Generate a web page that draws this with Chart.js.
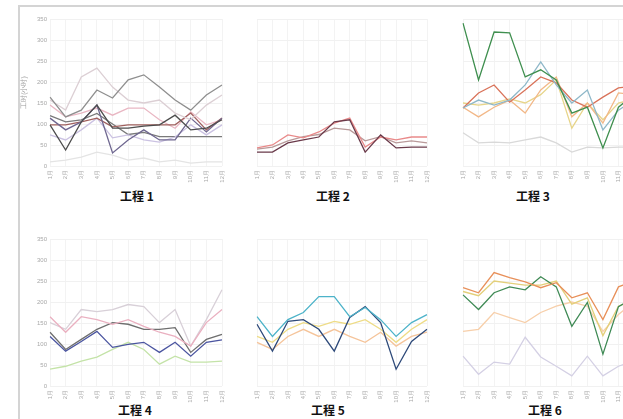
<!DOCTYPE html>
<html>
<head>
<meta charset="utf-8">
<script src="https://cdn.jsdelivr.net/npm/chart.js@4"></script>
<style>
  html, body { margin: 0; padding: 0; width: 623px; height: 419px; overflow: hidden; background: #fff; }
  .frame { position: absolute; left: 18px; top: 5px; width: 700px; height: 500px; border: 2px solid #d4d4d4; box-sizing: border-box; }
  .panel { position: absolute; }
  .titulo { position: absolute; font-family: "Noto Sans CJK SC", "Noto Sans", sans-serif; font-weight: bold; font-size: 12px; color: #111; background: #fff; padding: 0 3px; transform: translate(-50%, -50%); white-space: nowrap; }
</style>
</head>
<body>
<div class="frame"></div>

<canvas id="c1" class="panel"></canvas>
<canvas id="c2" class="panel"></canvas>
<canvas id="c3" class="panel"></canvas>
<canvas id="c4" class="panel"></canvas>
<canvas id="c5" class="panel"></canvas>
<canvas id="c6" class="panel"></canvas>

<div class="titulo" style="left:137px; top:195px;">工程 1</div>
<div class="titulo" style="left:333px; top:195px;">工程 2</div>
<div class="titulo" style="left:533px; top:195px;">工程 3</div>
<div class="titulo" style="left:135px; top:409px;">工程 4</div>
<div class="titulo" style="left:328px; top:409px;">工程 5</div>
<div class="titulo" style="left:545px; top:409px;">工程 6</div>

<script>
// DADOS
const meses = ["1月", "2月", "3月", "4月", "5月", "6月", "7月", "8月", "9月", "10月", "11月", "12月"];
const yTicks = [0, 50, 100, 150, 200, 250, 300, 350];
const yTitulo = "工时(小时)";

const proc1 = [
  [164, 117, 133, 181, 162, 205, 217, 188, 157, 133, 169, 193],
  [157, 133, 212, 233, 188, 157, 150, 157, 126, 110, 145, 169],
  [98, 38, 105, 145, 90, 90, 95, 98, 121, 86, 90, 110],
  [114, 86, 105, 145, 31, 62, 86, 62, 62, 114, 81, 114],
  [98, 98, 105, 114, 93, 98, 98, 98, 98, 126, 86, 114],
  [145, 117, 126, 138, 121, 138, 138, 110, 90, 129, 98, 110],
  [74, 62, 86, 114, 67, 74, 62, 57, 69, 98, 74, 98],
  [10, 14, 21, 33, 26, 14, 19, 10, 14, 7, 10, 10],
  [120, 105, 110, 125, 100, 75, 80, 70, 70, 70, 70, 70]
];
const proc2 = [
  [33, 33, 55, 62, 69, 105, 110, 33, 74, 43, 45, 45],
  [43, 50, 74, 67, 81, 102, 114, 45, 69, 62, 69, 69],
  [40, 45, 60, 70, 75, 90, 86, 60, 70, 55, 60, 55]
];
const proc3 = [
  [340, 205, 319, 317, 212, 229, 205, 126, 140, 43, 140, 170],
  [138, 157, 145, 157, 193, 248, 193, 150, 181, 86, 133, 157],
  [138, 174, 193, 152, 181, 212, 198, 157, 140, 164, 186, 190],
  [140, 117, 140, 157, 126, 181, 212, 117, 150, 102, 174, 170],
  [150, 145, 150, 160, 150, 170, 205, 90, 150, 110, 150, 160],
  [79, 55, 57, 55, 62, 69, 55, 33, 45, 43, 45, 45]
];
const proc4 = [
  [165, 128, 165, 158, 147, 158, 142, 128, 118, 95, 151, 182],
  [151, 135, 182, 177, 182, 194, 189, 151, 182, 95, 158, 229],
  [128, 87, 111, 135, 151, 147, 135, 135, 139, 80, 111, 123],
  [118, 83, 106, 130, 92, 99, 104, 80, 104, 71, 104, 110],
  [40, 47, 59, 69, 87, 104, 87, 52, 71, 57, 57, 59]
];
const proc5 = [
  [165, 118, 158, 175, 213, 213, 165, 187, 158, 118, 151, 170],
  [147, 83, 154, 158, 135, 83, 163, 189, 151, 40, 106, 135],
  [118, 104, 135, 151, 142, 154, 147, 158, 135, 104, 135, 158],
  [104, 87, 118, 135, 118, 135, 118, 104, 128, 95, 118, 128]
];
const proc6 = [
  [234, 222, 270, 258, 248, 234, 246, 210, 222, 158, 236, 250],
  [217, 182, 222, 236, 229, 260, 236, 142, 199, 76, 189, 210],
  [225, 215, 250, 245, 240, 240, 250, 195, 210, 120, 190, 205],
  [130, 135, 175, 163, 151, 175, 190, 200, 190, 130, 170, 200],
  [71, 28, 57, 52, 116, 69, 47, 24, 71, 24, 47, 60]
];

// CORES
const cores1 = ["#8f8f8f", "#dccfd4", "#4d4d4d", "#6f6790", "#a0605e", "#e9b7c3", "#cbc2e2", "#e4e4e4", "#7a7a7a"];
const cores2 = ["#6a3a4a", "#e98a8a", "#b99a9a"];
const cores3 = ["#3f8f4f", "#8fb8c9", "#d9735a", "#f2b888", "#e7d58a", "#d9d9d9"];
const cores4 = ["#eab0c0", "#d8d0d8", "#6e6e6e", "#4b55a0", "#c4e3a8"];
const cores5 = ["#4db3c9", "#2e4a7a", "#eedc86", "#f5c49a"];
const cores6 = ["#e8905a", "#3f8a55", "#e3cf7a", "#f7cfaa", "#d4d0e4"];

// GRAFICO
function criarPainel(id, pos, series, cores, comEixo, comTitulo) {
  const cv = document.getElementById(id);
  cv.style.left = pos.left + "px";
  cv.style.top = pos.top + "px";
  cv.width = pos.w;
  cv.height = pos.h;
  cv.style.width = pos.w + "px";
  cv.style.height = pos.h + "px";

  new Chart(cv, {
    type: "line",
    data: {
      labels: meses,
      datasets: series.map((s, i) => ({
        data: s,
        borderColor: cores[i],
        borderWidth: 1.3,
        pointRadius: 0,
        tension: 0,
        fill: false
      }))
    },
    options: {
      responsive: false,
      animation: false,
      layout: { padding: { left: pos.pl, right: pos.pr, top: 9, bottom: 0 } },
      plugins: { legend: { display: false }, tooltip: { enabled: false } },
      scales: {
        x: {
          grid: { color: "#f3f3f3", drawTicks: false },
          border: { display: false },
          ticks: {
            color: "#a8a8a8",
            font: { size: 6 },
            maxRotation: 90,
            minRotation: 90,
            autoSkip: false,
            padding: 4
          },
          afterFit: s => { s.height = 24; }
        },
        y: {
          min: 0,
          max: 350,
          afterBuildTicks: s => { s.ticks = yTicks.map(v => ({ value: v })); },
          grid: { color: "#f1f1f1", drawTicks: false },
          border: { display: false },
          ticks: { display: comEixo, color: "#a8a8a8", font: { size: 6 }, padding: 3 },
          title: {
            display: comTitulo,
            text: yTitulo,
            color: "#9a9a9a",
            font: { size: 7 },
            padding: 0
          },
          afterFit: s => { s.width = comEixo ? 30 : 0; }
        }
      }
    }
  });
}

criarPainel("c1", { left: 20, top: 10, w: 215, h: 180, pl: 0, pr: 13 }, proc1, cores1, true, true);
criarPainel("c2", { left: 240, top: 10, w: 200, h: 180, pl: 17, pr: 13 }, proc2, cores2, false, false);
criarPainel("c3", { left: 446, top: 10, w: 200, h: 180, pl: 17, pr: 12 }, proc3, cores3, false, false);
criarPainel("c4", { left: 20, top: 230, w: 215, h: 180, pl: 0, pr: 13 }, proc4, cores4, true, false);
criarPainel("c5", { left: 240, top: 230, w: 200, h: 180, pl: 17, pr: 13 }, proc5, cores5, false, false);
criarPainel("c6", { left: 446, top: 230, w: 200, h: 180, pl: 17, pr: 12 }, proc6, cores6, false, false);
</script>
</body>
</html>
